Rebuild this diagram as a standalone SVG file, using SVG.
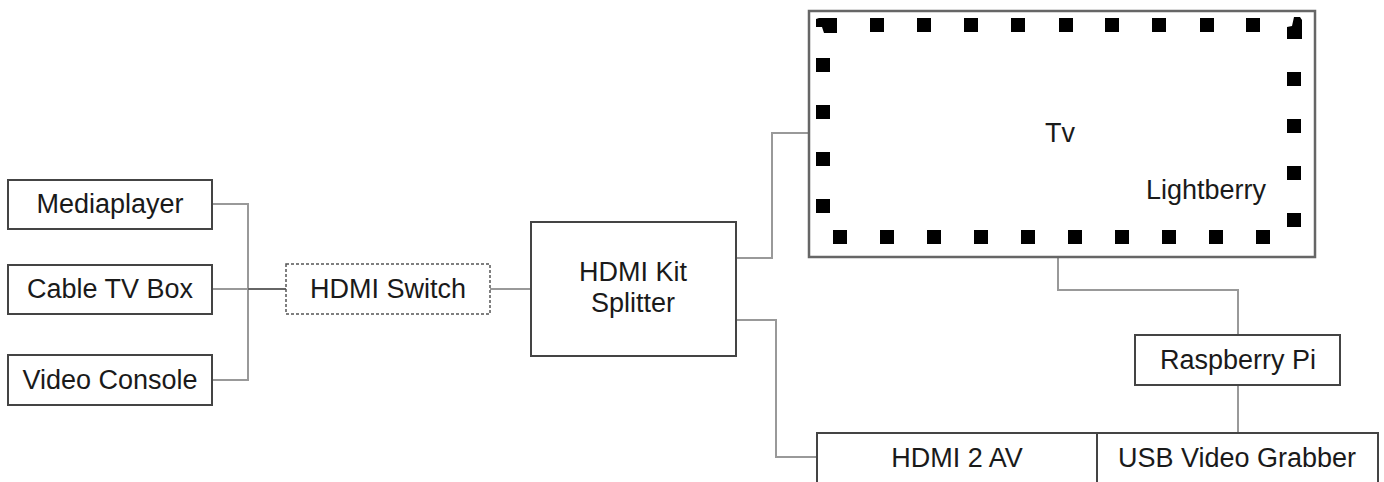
<svg xmlns="http://www.w3.org/2000/svg" width="1384" height="482" viewBox="0 0 1384 482">
<style>
.box{fill:#fff;stroke:#444;stroke-width:2}
.dash{fill:#fff;stroke:#555;stroke-width:1.5;stroke-dasharray:3 2}
.tv{fill:#fff;stroke:#666;stroke-width:2.5}
.lbl{font-family:"Liberation Sans",Arial,sans-serif;font-size:27px;fill:#1a1a1a;text-anchor:middle}
.con{fill:none;stroke:#999;stroke-width:2}
.led{fill:#000}
</style>
<rect width="1384" height="482" fill="#fff"/>
<g id="connectors">
<path class="con" d="M212,204 H248 V380 H212"/>
<path class="con" d="M212,289 H286"/>
<path d="M248,289 H286" stroke="#666" stroke-width="2" fill="none"/>
<path class="con" d="M490,289 H531"/>
<path class="con" d="M736,258 H772 V133 H809"/>
<path class="con" d="M736,320 H776 V457 H817"/>
<path class="con" d="M1058,236 V290 H1238 V335"/>
<path class="con" d="M1238,385 V433"/>
</g>
<g id="mediaplayer"><rect class="box" x="8" y="180" width="204" height="49"/><text class="lbl" x="110" y="213">Mediaplayer</text></g>
<g id="cabletv"><rect class="box" x="8" y="265" width="204" height="49"/><text class="lbl" x="110" y="298">Cable TV Box</text></g>
<g id="videoconsole"><rect class="box" x="8" y="355" width="204" height="50"/><text class="lbl" x="110" y="389">Video Console</text></g>
<g id="hdmiswitch"><rect class="dash" x="286" y="264" width="204" height="50"/><text class="lbl" x="388" y="298">HDMI Switch</text></g>
<g id="splitter"><rect class="box" x="531" y="222" width="205" height="134"/><text class="lbl" x="633" y="281">HDMI Kit</text><text class="lbl" x="633" y="312">Splitter</text></g>
<g id="tv">
<rect class="tv" x="809" y="11" width="506" height="246"/>
<path class="led" d="M816,19 L819,18 H837 V33 H824 L822,27 H816 Z"/>
<path class="led" d="M1294,17 H1300 L1302,20 V39 H1287 V27 L1292,26 Z"/>
<g class="led">
<rect x="870" y="18" width="14" height="14"/><rect x="917" y="18" width="14" height="14"/><rect x="964" y="18" width="14" height="14"/><rect x="1011" y="18" width="14" height="14"/><rect x="1059" y="18" width="14" height="14"/><rect x="1105" y="18" width="14" height="14"/><rect x="1152" y="18" width="14" height="14"/><rect x="1200" y="18" width="14" height="14"/><rect x="1246" y="18" width="14" height="14"/>
<rect x="816" y="58" width="14" height="14"/><rect x="816" y="105" width="14" height="14"/><rect x="816" y="152" width="14" height="14"/><rect x="816" y="199" width="14" height="14"/>
<rect x="1287" y="72" width="14" height="14"/><rect x="1287" y="119" width="14" height="14"/><rect x="1287" y="166" width="14" height="14"/><rect x="1287" y="213" width="14" height="14"/>
<rect x="833" y="230" width="14" height="14"/><rect x="880" y="230" width="14" height="14"/><rect x="927" y="230" width="14" height="14"/><rect x="974" y="230" width="14" height="14"/><rect x="1021" y="230" width="14" height="14"/><rect x="1068" y="230" width="14" height="14"/><rect x="1115" y="230" width="14" height="14"/><rect x="1162" y="230" width="14" height="14"/><rect x="1209" y="230" width="14" height="14"/><rect x="1256" y="230" width="14" height="14"/>
</g>
<text class="lbl" x="1060" y="142">Tv</text>
<text class="lbl" x="1206" y="199">Lightberry</text>
</g>
<g id="raspberrypi"><rect class="box" x="1135" y="335" width="205" height="50"/><text class="lbl" x="1238" y="369">Raspberry Pi</text></g>
<g id="hdmi2av"><rect class="box" x="817" y="433" width="280" height="52"/><text class="lbl" x="957" y="467">HDMI 2 AV</text></g>
<g id="usbgrabber"><rect class="box" x="1097" y="433" width="281" height="52"/><text class="lbl" x="1237" y="467">USB Video Grabber</text></g>
</svg>
